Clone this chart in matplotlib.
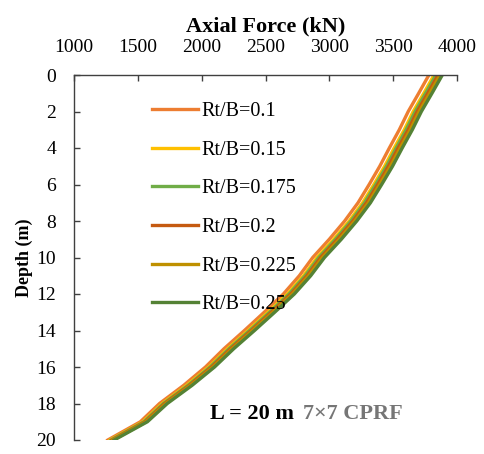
import numpy as np
import matplotlib.pyplot as plt

# Datos: fuerza axial (kN) vs profundidad (m) para cada Rt/B
depth = np.arange(0, 21, 1)
f_010 = [3780, 3700, 3618, 3548, 3470, 3395, 3312, 3225, 3120, 3000, 2870,
         2765, 2640, 2490, 2335, 2175, 2030, 1860, 1670, 1520, 1265]
f_015 = [3820, 3740, 3657, 3587, 3508, 3433, 3349, 3261, 3156, 3035, 2904,
         2798, 2672, 2520, 2364, 2203, 2056, 1884, 1692, 1540, 1283]
f_0175 = [3835, 3754, 3672, 3601, 3523, 3447, 3363, 3275, 3169, 3048, 2917,
          2810, 2684, 2532, 2375, 2214, 2066, 1894, 1701, 1548, 1290]
f_020 = [3852, 3771, 3688, 3618, 3539, 3463, 3379, 3291, 3185, 3063, 2932,
         2825, 2698, 2545, 2388, 2226, 2077, 1904, 1710, 1557, 1298]
f_0225 = [3868, 3787, 3704, 3634, 3555, 3479, 3394, 3306, 3199, 3078, 2946,
          2838, 2711, 2558, 2400, 2238, 2089, 1914, 1720, 1565, 1306]
f_025 = [3885, 3804, 3721, 3650, 3571, 3495, 3410, 3322, 3215, 3094, 2962,
         2854, 2726, 2572, 2414, 2251, 2101, 1926, 1731, 1575, 1315]

series = [f_010, f_015, f_0175, f_020, f_0225, f_025]
labels = ["Rt/B=0.1", "Rt/B=0.15", "Rt/B=0.175", "Rt/B=0.2", "Rt/B=0.225", "Rt/B=0.25"]
colors = ["#ED7D31", "#FFC000", "#70AD47", "#C55A11", "#BF9000", "#548235"]

plt.rcParams['font.family'] = ['Liberation Serif', 'DejaVu Serif']

fig = plt.figure(figsize=(4.84, 4.54), dpi=100)
ax = fig.add_axes([74/484, 1-440/454, 383/484, 365/454])

for f, lab, c in zip(series, labels, colors):
    ax.plot(f, depth, color=c, lw=2.4, label=lab, solid_joinstyle='round')

ax.set_xlim(1000, 4000)
ax.set_ylim(20, 0)
ax.set_xticks(np.arange(1000, 4001, 500))
ax.set_yticks(np.arange(0, 21, 2))

ax.xaxis.tick_top()
ax.xaxis.set_label_position('top')
ax.tick_params(axis='both', direction='in', length=4, width=1, colors='#404040',
               labelcolor='black', labelsize=14)
ax.tick_params(axis='x', pad=14)
ax.tick_params(axis='y', pad=13)

for s in ['right', 'bottom']:
    ax.spines[s].set_visible(False)
for s in ['top', 'left']:
    ax.spines[s].set_color('#404040')
    ax.spines[s].set_linewidth(1)

ax.set_xlabel("Axial Force (kN)", fontsize=16, fontweight='bold', labelpad=5)
ax.set_ylabel("Depth (m)", fontsize=13, fontweight='bold')
ax.yaxis.set_label_coords(-0.107, 0.5)

ax.legend(loc='upper left', bbox_to_anchor=(152/484, 1-102/454),
          bbox_transform=fig.transFigure, frameon=False, fontsize=14.5,
          handlelength=2.3, handletextpad=0.15, labelspacing=0.97,
          borderpad=0, borderaxespad=0)

fig.text(210/484, 1-414/454, "L = 20 m", fontsize=16, fontweight='bold',
         va='center', ha='left', color='black')
fig.text(303/484, 1-414/454, "7×7 CPRF", fontsize=16, fontweight='bold',
         va='center', ha='left', color='#767676')

fig.savefig("out.png", dpi=100)
